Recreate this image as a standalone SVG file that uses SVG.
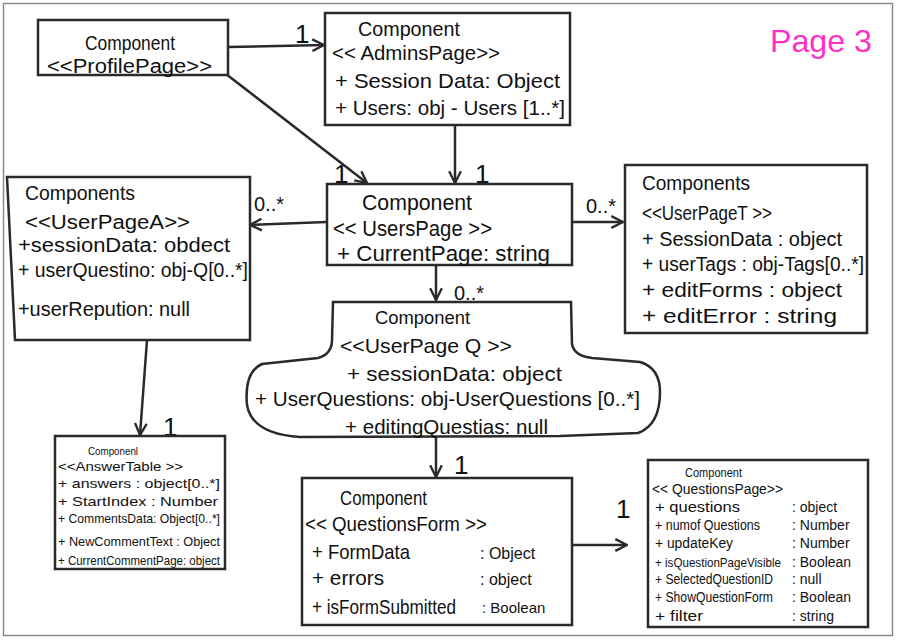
<svg xmlns="http://www.w3.org/2000/svg" width="898" height="641" viewBox="0 0 898 641">
<defs>
<style>
.box{fill:#fff;stroke:#2a2a2a;stroke-width:2.5}
.t{font-family:"Liberation Sans",Arial,sans-serif;fill:#111}
.l{fill:none;stroke:#2a2a2a;stroke-width:2.5}
.lbl{font-family:"Liberation Sans",Arial,sans-serif;fill:#111;font-size:26px}
.m{font-family:"Liberation Sans",Arial,sans-serif;fill:#111;font-size:20px}
</style>
<marker id="ah" viewBox="0 0 12 12" refX="11" refY="6" markerWidth="14" markerHeight="14" markerUnits="userSpaceOnUse" orient="auto">
<path d="M1,1 L11,6 L1,11" fill="none" stroke="#2a2a2a" stroke-width="2"/>
</marker>
</defs>
<rect x="0" y="0" width="898" height="641" fill="#fff"/>
<rect x="3.5" y="3.5" width="889" height="632" fill="none" stroke="#8a8a8a" stroke-width="1.5"/>
<text x="770" y="52" style="font-family:'Liberation Sans',Arial,sans-serif;font-size:32px;fill:#ff2fc8" textLength="102" lengthAdjust="spacingAndGlyphs">Page 3</text>

<g id="connectors">
<line class="l" x1="228" y1="47" x2="324" y2="45" marker-end="url(#ah)"/>
<line class="l" x1="226" y1="74" x2="367" y2="183" marker-end="url(#ah)"/>
<line class="l" x1="455" y1="125" x2="455" y2="183" marker-end="url(#ah)"/>
<line class="l" x1="327" y1="222" x2="250" y2="225" marker-end="url(#ah)"/>
<line class="l" x1="572" y1="222" x2="623" y2="222" marker-end="url(#ah)"/>
<line class="l" x1="436" y1="265" x2="436" y2="300" marker-end="url(#ah)"/>
<line class="l" x1="147" y1="340" x2="140" y2="435" marker-end="url(#ah)"/>
<line class="l" x1="436" y1="437" x2="436" y2="477" marker-end="url(#ah)"/>
<line class="l" x1="572" y1="545" x2="627" y2="545" marker-end="url(#ah)"/>
<text class="lbl" x="295" y="43">1</text>
<text class="lbl" x="334" y="183">1</text>
<text class="lbl" x="475" y="183">1</text>
<text class="m" x="254" y="211">0..*</text>
<text class="m" x="586" y="213">0..*</text>
<text class="m" x="454" y="300">0..*</text>
<text class="lbl" x="163" y="436">1</text>
<text class="lbl" x="454" y="474">1</text>
<text class="lbl" x="616" y="518">1</text>
</g>

<g id="ProfilePage">
<rect class="box" x="38" y="20" width="190" height="55"/>
<text class="t" x="85" y="50" font-size="20" textLength="90" lengthAdjust="spacingAndGlyphs">Component</text>
<text class="t" x="47" y="73" font-size="20" textLength="165" lengthAdjust="spacingAndGlyphs">&lt;&lt;ProfilePage&gt;&gt;</text>
</g>

<g id="AdminsPage">
<rect class="box" x="325" y="13" width="245" height="112"/>
<text class="t" x="358" y="36" font-size="21" textLength="102" lengthAdjust="spacingAndGlyphs">Component</text>
<text class="t" x="332" y="60" font-size="21" textLength="168" lengthAdjust="spacingAndGlyphs">&lt;&lt; AdminsPage&gt;&gt;</text>
<text class="t" x="335" y="88" font-size="21" textLength="225" lengthAdjust="spacingAndGlyphs">+ Session Data: Object</text>
<text class="t" x="335" y="115" font-size="21" textLength="230" lengthAdjust="spacingAndGlyphs">+ Users: obj - Users [1..*]</text>
</g>

<g id="UsersPage">
<rect class="box" x="327" y="184" width="245" height="81"/>
<text class="t" x="362" y="210" font-size="22" textLength="110" lengthAdjust="spacingAndGlyphs">Component</text>
<text class="t" x="333" y="236" font-size="22" textLength="159" lengthAdjust="spacingAndGlyphs">&lt;&lt; UsersPage &gt;&gt;</text>
<text class="t" x="337" y="261" font-size="22" textLength="213" lengthAdjust="spacingAndGlyphs">+ CurrentPage: string</text>
</g>

<g id="UserPageA">
<path class="box" d="M7,177 L250,177 L250,340 L15,340 Z"/>
<text class="t" x="25" y="200" font-size="20" textLength="110" lengthAdjust="spacingAndGlyphs">Components</text>
<text class="t" x="25" y="229" font-size="20" textLength="165" lengthAdjust="spacingAndGlyphs">&lt;&lt;UserPageA&gt;&gt;</text>
<text class="t" x="18" y="252" font-size="20" textLength="212" lengthAdjust="spacingAndGlyphs">+sessionData: obdect</text>
<text class="t" x="18" y="277" font-size="20" textLength="230" lengthAdjust="spacingAndGlyphs">+ userQuestino: obj-Q[0..*]</text>
<text class="t" x="18" y="316" font-size="20" textLength="172" lengthAdjust="spacingAndGlyphs">+userRepution: null</text>
</g>

<g id="UserPageT">
<rect class="box" x="625" y="165" width="242" height="168"/>
<text class="t" x="642" y="190" font-size="20" textLength="108" lengthAdjust="spacingAndGlyphs">Components</text>
<text class="t" x="642" y="220" font-size="20" textLength="130" lengthAdjust="spacingAndGlyphs">&lt;&lt;UserPageT &gt;&gt;</text>
<text class="t" x="642" y="246" font-size="20" textLength="200" lengthAdjust="spacingAndGlyphs">+ SessionData : object</text>
<text class="t" x="642" y="271" font-size="20" textLength="222" lengthAdjust="spacingAndGlyphs">+ userTags : obj-Tags[0..*]</text>
<text class="t" x="642" y="297" font-size="20" textLength="200" lengthAdjust="spacingAndGlyphs">+ editForms  :  object</text>
<text class="t" x="642" y="323" font-size="20" textLength="195" lengthAdjust="spacingAndGlyphs">+ editError  :  string</text>
</g>

<g id="UserPageQ">
<path class="box" d="M333,302 L571,302 L572,344 Q574,356 592,358 L640,362 Q660,368 660,392 Q660,425 638,433 L560,436 L300,437 Q252,434 247,405 Q244,372 262,364 L318,358 Q332,354 332,340 Z"/>
<text class="t" x="375" y="324" font-size="19" textLength="95" lengthAdjust="spacingAndGlyphs">Component</text>
<text class="t" x="340" y="353" font-size="21" textLength="172" lengthAdjust="spacingAndGlyphs">&lt;&lt;UserPage Q &gt;&gt;</text>
<text class="t" x="347" y="381" font-size="21" textLength="215" lengthAdjust="spacingAndGlyphs">+ sessionData: object</text>
<text class="t" x="255" y="406" font-size="21" textLength="385" lengthAdjust="spacingAndGlyphs">+ UserQuestions: obj-UserQuestions [0..*]</text>
<text class="t" x="345" y="434" font-size="21" textLength="203" lengthAdjust="spacingAndGlyphs">+ editingQuestias: null</text>
</g>

<g id="AnswerTable">
<rect class="box" x="55" y="436" width="170" height="133"/>
<text class="t" x="88" y="455" font-size="11" textLength="50" lengthAdjust="spacingAndGlyphs">Componenl</text>
<text class="t" x="58" y="471" font-size="13" textLength="125" lengthAdjust="spacingAndGlyphs">&lt;&lt;AnswerTable &gt;&gt;</text>
<text class="t" x="58" y="488" font-size="13" textLength="162" lengthAdjust="spacingAndGlyphs">+ answers  : object[0..*]</text>
<text class="t" x="58" y="506" font-size="13" textLength="160" lengthAdjust="spacingAndGlyphs">+ StartIndex     : Number</text>
<text class="t" x="58" y="523" font-size="13" textLength="162" lengthAdjust="spacingAndGlyphs">+ CommentsData: Object[0..*]</text>
<text class="t" x="58" y="546" font-size="13" textLength="162" lengthAdjust="spacingAndGlyphs">+ NewCommentText  : Object</text>
<text class="t" x="58" y="565" font-size="13" textLength="162" lengthAdjust="spacingAndGlyphs">+ CurrentCommentPage: object</text>
</g>

<g id="QuestionsForm">
<rect class="box" x="302" y="478" width="270" height="147"/>
<text class="t" x="340" y="505" font-size="20" textLength="87" lengthAdjust="spacingAndGlyphs">Component</text>
<text class="t" x="305" y="531" font-size="20" textLength="182" lengthAdjust="spacingAndGlyphs">&lt;&lt; QuestionsForm &gt;&gt;</text>
<text class="t" x="312" y="559" font-size="21" textLength="98" lengthAdjust="spacingAndGlyphs">+ FormData</text>
<text class="t" x="480" y="559" font-size="16">:  Object</text>
<text class="t" x="312" y="585" font-size="21" textLength="72" lengthAdjust="spacingAndGlyphs">+ errors</text>
<text class="t" x="480" y="585" font-size="16">:  object</text>
<text class="t" x="312" y="614" font-size="20" textLength="144" lengthAdjust="spacingAndGlyphs">+ isFormSubmitted</text>
<text class="t" x="482" y="613" font-size="15">: Boolean</text>
</g>

<g id="QuestionsPage">
<rect class="box" x="648" y="460" width="220" height="167"/>
<text class="t" x="685" y="477" font-size="13" textLength="57" lengthAdjust="spacingAndGlyphs">Component</text>
<text class="t" x="652" y="494" font-size="14" textLength="131" lengthAdjust="spacingAndGlyphs">&lt;&lt; QuestionsPage&gt;&gt;</text>
<text class="t" x="655" y="512" font-size="14" textLength="85" lengthAdjust="spacingAndGlyphs">+ questions</text>
<text class="t" x="655" y="530" font-size="14" textLength="105" lengthAdjust="spacingAndGlyphs">+ numof Questions</text>
<text class="t" x="655" y="548" font-size="14" textLength="78" lengthAdjust="spacingAndGlyphs">+ updateKey</text>
<text class="t" x="655" y="567" font-size="12" textLength="126" lengthAdjust="spacingAndGlyphs">+ isQuestionPageVisible</text>
<text class="t" x="655" y="584" font-size="14" textLength="118" lengthAdjust="spacingAndGlyphs">+ SelectedQuestionID</text>
<text class="t" x="655" y="602" font-size="14" textLength="118" lengthAdjust="spacingAndGlyphs">+ ShowQuestionForm</text>
<text class="t" x="655" y="621" font-size="14" textLength="48" lengthAdjust="spacingAndGlyphs">+ filter</text>
<text class="t" x="792" y="512" font-size="14">: object</text>
<text class="t" x="792" y="530" font-size="14">: Number</text>
<text class="t" x="792" y="548" font-size="14">: Number</text>
<text class="t" x="792" y="567" font-size="14">: Boolean</text>
<text class="t" x="792" y="584" font-size="14">: null</text>
<text class="t" x="792" y="602" font-size="14">: Boolean</text>
<text class="t" x="792" y="621" font-size="14">: string</text>
</g>
</svg>
